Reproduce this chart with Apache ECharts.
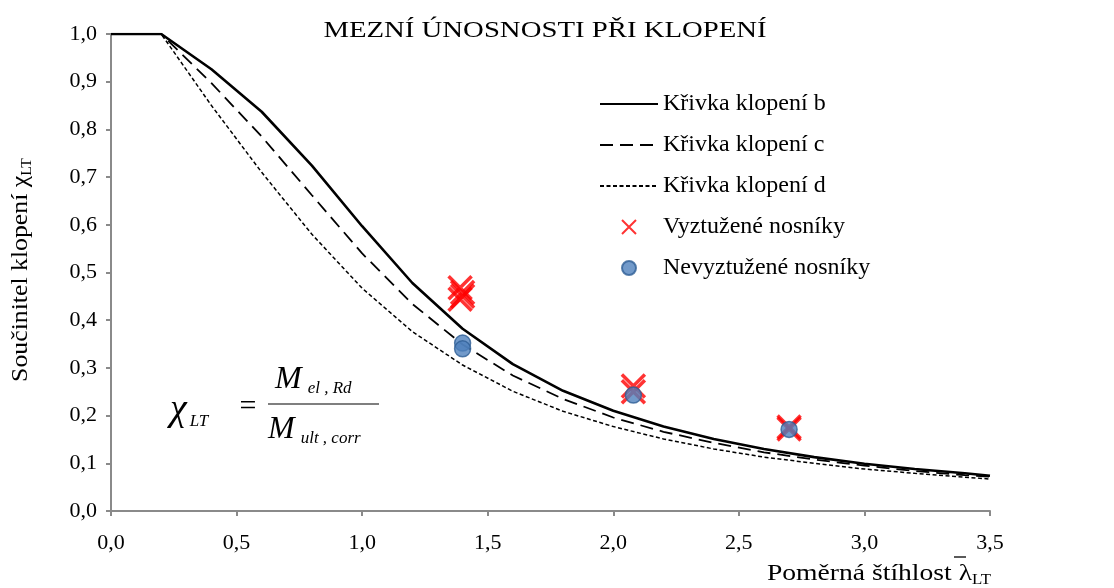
<!DOCTYPE html>
<html>
<head>
<meta charset="utf-8">
<script src="https://cdn.jsdelivr.net/npm/echarts@6/dist/echarts.min.js"></script>
<style>
  html, body { margin: 0; padding: 0; background: #fff; }
  #chart { width: 1114px; height: 588px; }
</style>
</head>
<body>
<div id="chart"></div>
<script>
  // poměrná štíhlost
  const lambdaVals = [0, 0.2, 0.4, 0.6, 0.8, 1.0, 1.2, 1.4, 1.6, 1.8, 2.0, 2.2, 2.4, 2.6, 2.8, 3.0, 3.2, 3.4, 3.5]
  // křivky klopení b, c, d
  const chiB = [1, 1, 0.926, 0.837, 0.724, 0.597, 0.478, 0.382, 0.308, 0.252, 0.210, 0.177, 0.151, 0.130, 0.113, 0.099, 0.088, 0.079, 0.074]
  const chiC = [1, 1, 0.897, 0.785, 0.662, 0.540, 0.434, 0.349, 0.284, 0.235, 0.196, 0.166, 0.143, 0.123, 0.108, 0.095, 0.084, 0.075, 0.072]
  const chiD = [1, 1, 0.850, 0.710, 0.580, 0.467, 0.376, 0.306, 0.251, 0.209, 0.177, 0.151, 0.130, 0.113, 0.100, 0.088, 0.079, 0.071, 0.067]
  // zkoušky
  const vyztX = [1.39, 1.40, 1.40, 1.39, 2.08, 2.08, 2.70, 2.70]
  const vyztY = [0.468, 0.458, 0.450, 0.444, 0.262, 0.250, 0.176, 0.172]
  const nevyztX = [1.40, 1.40, 2.08, 2.70]
  const nevyztY = [0.352, 0.340, 0.243, 0.171]

  const serif = '"Liberation Serif", "DejaVu Serif", serif'
  const fmt = v => v.toFixed(1).replace('.', ',')
  const pairs = (xs, ys) => xs.map((x, i) => [x, ys[i]])
  const noSym = { color: 'rgba(0,0,0,0)', borderColor: 'rgba(0,0,0,0)' }

  const chart = echarts.init(document.getElementById('chart'))
  chart.setOption({
    animation: false,
    grid: { left: 111, right: 124, top: 34, bottom: 77 },
    xAxis: {
      type: 'value', min: 0, max: 3.5, interval: 0.5,
      axisLine: { lineStyle: { color: '#8a8a8a', width: 2 } },
      axisTick: { show: true, length: 5, lineStyle: { color: '#8a8a8a', width: 2 } },
      splitLine: { show: false },
      axisLabel: { color: '#000', fontFamily: serif, fontSize: 22, margin: 21, formatter: fmt }
    },
    yAxis: {
      type: 'value', min: 0, max: 1, interval: 0.1,
      axisLine: { show: true, lineStyle: { color: '#8a8a8a', width: 2 } },
      axisTick: { show: true, length: 5, lineStyle: { color: '#8a8a8a', width: 2 } },
      splitLine: { show: false },
      axisLabel: { color: '#000', fontFamily: serif, fontSize: 22, margin: 14, formatter: fmt }
    },
    legend: {
      orient: 'vertical', left: 594, top: 87,
      itemWidth: 58, itemHeight: 14, itemGap: 17,
      textStyle: { fontFamily: serif, fontSize: 24, color: '#000', lineHeight: 24 },
      data: [
        'Křivka klopení b', 'Křivka klopení c', 'Křivka klopení d',
        { name: 'Vyztužené nosníky', itemStyle: { borderWidth: 2 } },
        'Nevyztužené nosníky'
      ]
    },
    graphic: [
      { type: 'text', x: 545, y: 31, scaleX: 1.25, style: { text: 'MEZNÍ ÚNOSNOSTI PŘI KLOPENÍ', align: 'center', verticalAlign: 'middle', font: '23px ' + serif, fill: '#000' } },
      {
        type: 'text', rotation: Math.PI / 2, x: 21, y: 270, scaleX: 1.12,
        style: {
          text: '{a|Součinitel klopení χ}{s|LT}', align: 'center', verticalAlign: 'middle',
          rich: {
            a: { fontFamily: serif, fontSize: 23, fill: '#000', lineHeight: 26 },
            s: { fontFamily: serif, fontSize: 14, fill: '#000', verticalAlign: 'bottom', lineHeight: 26 }
          }
        }
      },
      {
        type: 'text', x: 991, y: 574, scaleX: 1.2,
        style: {
          text: '{a|Poměrná štíhlost λ}{s|LT}', align: 'right', verticalAlign: 'middle',
          rich: {
            a: { fontFamily: serif, fontSize: 23, fill: '#000', lineHeight: 26 },
            s: { fontFamily: serif, fontSize: 14, fill: '#000', verticalAlign: 'bottom', lineHeight: 24 }
          }
        }
      },
      { type: 'line', shape: { x1: 954, y1: 557, x2: 966, y2: 557 }, style: { stroke: '#000', lineWidth: 1.3 } },
      {
        type: 'text', x: 170, y: 410,
        style: {
          text: '{c|χ}{s|LT}', align: 'left', verticalAlign: 'middle',
          rich: {
            c: { fontFamily: serif, fontStyle: 'italic', fontSize: 38, fill: '#000', lineHeight: 40 },
            s: { fontFamily: serif, fontStyle: 'italic', fontSize: 17, fill: '#000', verticalAlign: 'bottom', lineHeight: 32, padding: [0, 0, 0, 3] }
          }
        }
      },
      { type: 'text', x: 248, y: 407, style: { text: '=', align: 'center', verticalAlign: 'middle', font: '30px ' + serif, fill: '#000' } },
      { type: 'line', shape: { x1: 268, y1: 404, x2: 379, y2: 404 }, style: { stroke: '#000', lineWidth: 1.2 } },
      {
        type: 'text', x: 275, y: 380,
        style: {
          text: '{m|M}{s|el , Rd}', align: 'left', verticalAlign: 'middle',
          rich: {
            m: { fontFamily: serif, fontStyle: 'italic', fontSize: 32, fill: '#000', lineHeight: 34 },
            s: { fontFamily: serif, fontStyle: 'italic', fontSize: 17, fill: '#000', verticalAlign: 'bottom', lineHeight: 30, padding: [0, 0, 0, 6] }
          }
        }
      },
      {
        type: 'text', x: 268, y: 430,
        style: {
          text: '{m|M}{s|ult , corr}', align: 'left', verticalAlign: 'middle',
          rich: {
            m: { fontFamily: serif, fontStyle: 'italic', fontSize: 32, fill: '#000', lineHeight: 34 },
            s: { fontFamily: serif, fontStyle: 'italic', fontSize: 17, fill: '#000', verticalAlign: 'bottom', lineHeight: 30, padding: [0, 0, 0, 6] }
          }
        }
      }
    ],
    series: [
      {
        name: 'Křivka klopení b', type: 'line', symbol: 'none', z: 3,
        lineStyle: { color: '#000', width: 2.6, type: 'solid' },
        itemStyle: noSym,
        data: pairs(lambdaVals, chiB)
      },
      {
        name: 'Křivka klopení c', type: 'line', symbol: 'none', z: 3,
        lineStyle: { color: '#000', width: 1.8, type: [13, 7] },
        itemStyle: noSym,
        data: pairs(lambdaVals, chiC)
      },
      {
        name: 'Křivka klopení d', type: 'line', symbol: 'none', z: 3,
        lineStyle: { color: '#000', width: 1.5, type: [4, 2.5] },
        itemStyle: noSym,
        data: pairs(lambdaVals, chiD)
      },
      {
        name: 'Vyztužené nosníky', type: 'scatter', z: 4,
        symbol: 'path://M0,0L10,10M10,0L0,10', symbolSize: 23,
        itemStyle: { color: 'rgba(0,0,0,0)', borderColor: '#ff0000', borderWidth: 3.5 },
        data: pairs(vyztX, vyztY)
      },
      {
        name: 'Nevyztužené nosníky', type: 'scatter', z: 5,
        symbol: 'circle', symbolSize: 16,
        itemStyle: { color: '#4f81bd', borderColor: '#2f5f96', borderWidth: 1.5 },
        data: pairs(nevyztX, nevyztY)
      }
    ]
  })
</script>
</body>
</html>
